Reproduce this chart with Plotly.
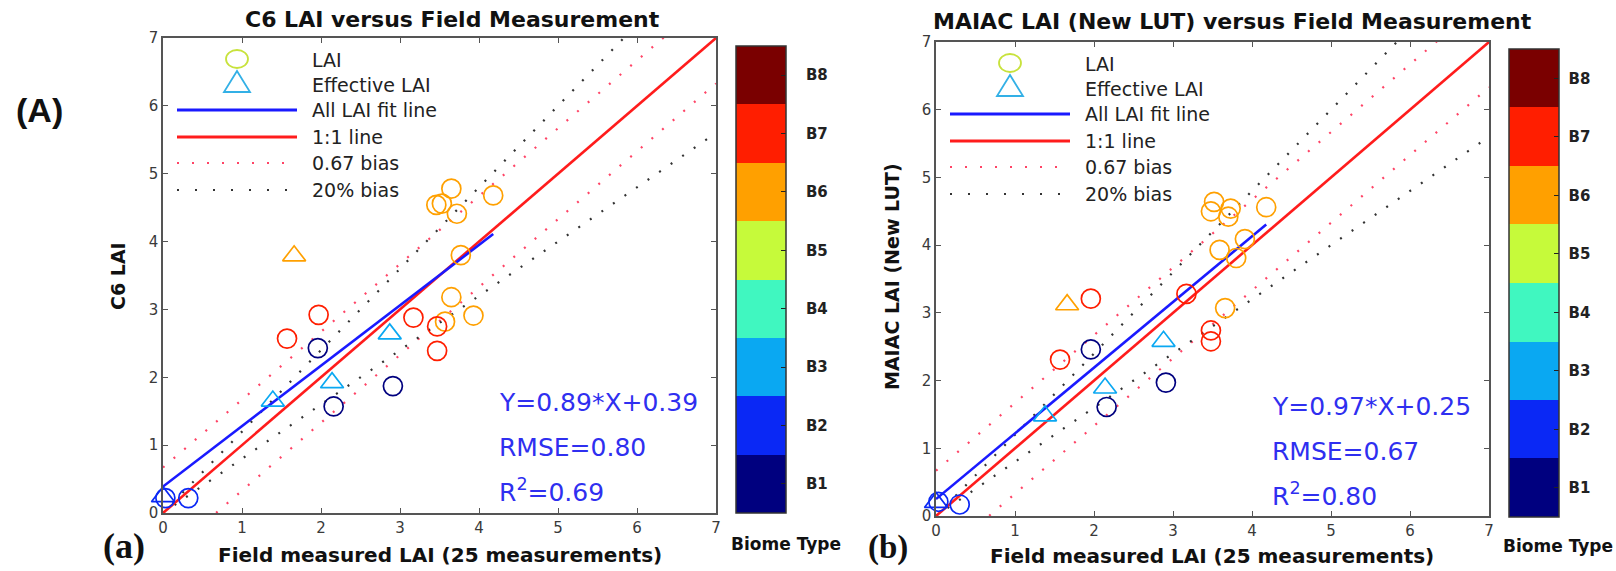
import plotly.graph_objects as go

W, H = 1616, 571

# ---------------- data ----------------
biome_labels = ["B1", "B2", "B3", "B4", "B5", "B6", "B7", "B8"]
biome_colors = ["#00007f", "#0a28f5", "#0aa8f2", "#40f7c0", "#c6fa3a",
                "#ffa000", "#ff1e00", "#7a0000"]

# Panel (a): C6 LAI vs field
a_lai_field = [3.46, 3.53, 3.65, 3.72, 4.18, 3.77, 3.57, 3.65, 3.93,
               1.57, 1.97, 3.17, 3.47, 3.47,
               1.96, 2.16, 2.91,
               0.03, 0.32]
a_lai_c6 = [4.54, 4.56, 4.78, 4.41, 4.68, 3.80, 2.82, 3.18, 2.91,
            2.57, 2.92, 2.88, 2.75, 2.39,
            2.43, 1.57, 1.87,
            0.22, 0.22]
a_lai_biome = [6, 6, 6, 6, 6, 6, 6, 6, 6,
               7, 7, 7, 7, 7,
               1, 1, 1,
               2, 2]
a_eff_field = [1.66, 1.39, 2.14, 2.87, 0.00]
a_eff_c6 = [3.79, 1.65, 1.92, 2.64, 0.24]
a_eff_biome = [6, 3, 3, 3, 2]

# Panel (b): MAIAC LAI (New LUT) vs field
b_lai_field = [3.48, 3.52, 3.73, 3.70, 4.18, 3.59, 3.91, 3.80, 3.66,
               1.57, 1.96, 3.17, 3.48, 3.48,
               1.96, 2.16, 2.91,
               0.03, 0.30]
b_lai_maiac = [4.50, 4.64, 4.54, 4.42, 4.56, 3.93, 4.09, 3.81, 3.07,
               2.31, 3.21, 3.28, 2.74, 2.58,
               2.46, 1.61, 1.97,
               0.21, 0.17]
b_lai_biome = a_lai_biome
b_eff_field = [1.66, 1.38, 2.14, 2.88, 0.00]
b_eff_maiac = [3.12, 1.48, 1.89, 2.58, 0.20]
b_eff_biome = a_eff_biome

fit_a = (0.89, 0.39)
fit_b = (0.97, 0.25)
fit_x = [0.0, 4.18]
line_x = [0.0, 7.0]
bias_offset = 0.67
bias_ratio = 0.20

stats_a = ["Y=0.89*X+0.39", "RMSE=0.80", "R<sup>2</sup>=0.69"]
stats_b = ["Y=0.97*X+0.25", "RMSE=0.67", "R<sup>2</sup>=0.80"]
legend_labels = ["LAI", "Effective LAI", "All LAI fit line", "1:1 line",
                 "0.67 bias", "20% bias"]
ticks = [0, 1, 2, 3, 4, 5, 6, 7]

# ---------------- styles ----------------
FONT = "DejaVu Sans"
BLUE_TXT = "#2f2ff0"
FIT_BLUE = "#1a1aff"
RED = "#ff1c1c"
RED_DOT = "#ff4466"
BLK_DOT = "#333333"
AX = "#555555"


def px(x):
    return x / W


def py(y):
    return 1 - y / H


# plot boxes (pixels): left, top, right, bottom
box_a = (163, 38, 716, 513)
box_b = (936, 42, 1489, 516)
# colorbar boxes (pixels): left, top, right, bottom
cb_a = (736, 46, 786, 513)
cb_b = (1509, 49, 1559, 517)

fig = go.Figure()


def add_panel(xa, ya, cax, lai_x, lai_y, lai_b, eff_x, eff_y, eff_b, fit):
    slope, icpt = fit
    # bias lines
    for ys, col in (([v + bias_offset for v in line_x], RED_DOT),
                    ([v - bias_offset for v in line_x], RED_DOT),
                    ([v * (1 + bias_ratio) for v in line_x], BLK_DOT),
                    ([v * (1 - bias_ratio) for v in line_x], BLK_DOT)):
        fig.add_trace(go.Scatter(x=line_x, y=ys, mode="lines",
                                 line=dict(color=col, width=2.2, dash="2px,12px"),
                                 xaxis=xa, yaxis=ya, hoverinfo="skip"))
    # 1:1 line
    fig.add_trace(go.Scatter(x=line_x, y=line_x, mode="lines",
                             line=dict(color=RED, width=2.6),
                             xaxis=xa, yaxis=ya, hoverinfo="skip"))
    # fit line
    fig.add_trace(go.Scatter(x=fit_x, y=[slope * v + icpt for v in fit_x], mode="lines",
                             line=dict(color=FIT_BLUE, width=2.6),
                             xaxis=xa, yaxis=ya, hoverinfo="skip"))
    # points
    fig.add_trace(go.Scatter(x=lai_x, y=lai_y, mode="markers", cliponaxis=False,
                             marker=dict(symbol="circle-open", size=19, color=lai_b,
                                         coloraxis=cax, line=dict(width=1.7)),
                             xaxis=xa, yaxis=ya))
    fig.add_trace(go.Scatter(x=eff_x, y=eff_y, mode="markers", cliponaxis=False,
                             marker=dict(symbol="triangle-up-open", size=20, color=eff_b,
                                         coloraxis=cax, line=dict(width=1.7)),
                             xaxis=xa, yaxis=ya))


add_panel("x", "y", "coloraxis", a_lai_field, a_lai_c6, a_lai_biome,
          a_eff_field, a_eff_c6, a_eff_biome, fit_a)
add_panel("x2", "y2", "coloraxis2", b_lai_field, b_lai_maiac, b_lai_biome,
          b_eff_field, b_eff_maiac, b_eff_biome, fit_b)

# discrete colorscale
n = len(biome_colors)
cscale = []
for i, c in enumerate(biome_colors):
    cscale.append([i / n, c])
    cscale.append([(i + 1) / n, c])


def axis_common(domain, anchor):
    return dict(domain=domain, anchor=anchor, range=[0, 7], tickvals=ticks,
                ticks="inside", ticklen=5, tickwidth=1.3, tickcolor=AX,
                showline=True, linecolor=AX, linewidth=1.5, mirror="allticks",
                showgrid=False, zeroline=False, automargin=False,
                tickfont=dict(family=FONT, size=15, color="#3a3a3a"))


def colorbar(cb, pad_spaces):
    left, top, right, bottom = cb
    return dict(
        colorscale=cscale, cmin=0.5, cmax=8.5,
        colorbar=dict(
            xref="paper", yref="paper", x=px(left), xanchor="left",
            y=1 - bottom / H, yanchor="bottom", xpad=0, ypad=0,
            thicknessmode="pixels", thickness=right - left,
            lenmode="pixels", len=bottom - top,
            outlinecolor="#333333", outlinewidth=1.5,
            tickvals=list(range(1, 9)),
            ticktext=["\u00a0" * pad_spaces + t for t in biome_labels],
            ticks="inside", ticklen=5, tickcolor="#222222",
            tickfont=dict(family=FONT, size=15, color="#222222", weight="bold"),
        ))


fig.update_layout(
    width=W, height=H, margin=dict(l=0, r=0, t=0, b=0, pad=0, autoexpand=False),
    paper_bgcolor="white", plot_bgcolor="white", showlegend=False,
    xaxis=axis_common([px(box_a[0]), px(box_a[2])], "y"),
    yaxis=axis_common([py(box_a[3]), py(box_a[1])], "x"),
    xaxis2=axis_common([px(box_b[0]), px(box_b[2])], "y2"),
    yaxis2=axis_common([py(box_b[3]), py(box_b[1])], "x2"),
    coloraxis=colorbar(cb_a, 3),
    coloraxis2=colorbar(cb_b, 1),
)

ann = []
shapes = []


def text(x, y, s, size, color="#111111", bold=False, family=FONT, xanchor="center",
         angle=0):
    ann.append(dict(x=px(x), y=py(y), xref="paper", yref="paper", text=s,
                    showarrow=False, xanchor=xanchor, yanchor="middle", textangle=angle,
                    font=dict(family=family, size=size, color=color,
                              weight="bold" if bold else "normal")))


# left-edge ticks of the colour bars (MATLAB style, both edges)
for cb in (cb_a, cb_b):
    left, top, right, bottom = cb
    seg = (bottom - top) / n
    for i in range(n):
        yy = top + (i + 0.5) * seg
        shapes.append(dict(type="line", xref="paper", yref="paper",
                           x0=px(left), x1=px(left + 5), y0=py(yy), y1=py(yy),
                           line=dict(color="#222222", width=1)))

for box, stats in ((box_a, stats_a), (box_b, stats_b)):
    L, T = box[0], box[1]
    # legend symbols
    shapes.append(dict(type="circle", xref="paper", yref="paper",
                       x0=px(L + 63), x1=px(L + 85), y0=py(T + 30), y1=py(T + 12),
                       line=dict(color="#c8e23c", width=1.8)))
    tx, ty0, ty1 = L + 74, T + 33, T + 54
    shapes.append(dict(type="path", xref="paper", yref="paper",
                       path=f"M {px(tx - 13)} {py(ty1)} L {px(tx + 13)} {py(ty1)} "
                            f"L {px(tx)} {py(ty0)} Z",
                       line=dict(color="#33b0e6", width=1.8)))
    for yy, col, dash, w in ((T + 72, FIT_BLUE, "solid", 3), (T + 99, RED, "solid", 3),
                             (T + 125, RED_DOT, "2px,13px", 2.2),
                             (T + 152, BLK_DOT, "2px,16px", 2.2)):
        shapes.append(dict(type="line", xref="paper", yref="paper",
                           x0=px(L + 14), x1=px(L + 134), y0=py(yy), y1=py(yy),
                           line=dict(color=col, width=w, dash=dash)))
    for lab, yy in zip(legend_labels, (T + 22, T + 47, T + 72, T + 99, T + 125, T + 152)):
        text(L + 147, yy, lab, 19, color="#222222", xanchor="left")
    for s, yy in zip(stats, (T + 364, T + 409, T + 452)):
        text(L + 334, yy, s, 25, color=BLUE_TXT, xanchor="left")

# titles and axis labels
text(452, 19, "C6 LAI versus Field Measurement", 22, bold=True)
text(1232, 22, "MAIAC LAI (New LUT) versus Field Measurement", 22, bold=True)
text(440, 555, "Field measured LAI (25 measurements)", 20, bold=True)
text(1212, 556, "Field measured LAI (25 measurements)", 20, bold=True)
text(118, 276, "C6 LAI", 19, bold=True, angle=-90)
text(892, 277, "MAIAC LAI (New LUT)", 19, bold=True, angle=-90)
text(729, 544, "Biome Type", 17, bold=True, xanchor="left")
text(1558, 546, "Biome Type", 17, bold=True)
text(39, 110, "(A)", 34, bold=True, family="Liberation Sans")
text(124, 546, "(a)", 36, bold=True, family="Liberation Serif")
text(888, 547, "(b)", 33, bold=True, family="Liberation Serif")

fig.update_layout(annotations=ann, shapes=shapes)

fig.write_html("out.html")
